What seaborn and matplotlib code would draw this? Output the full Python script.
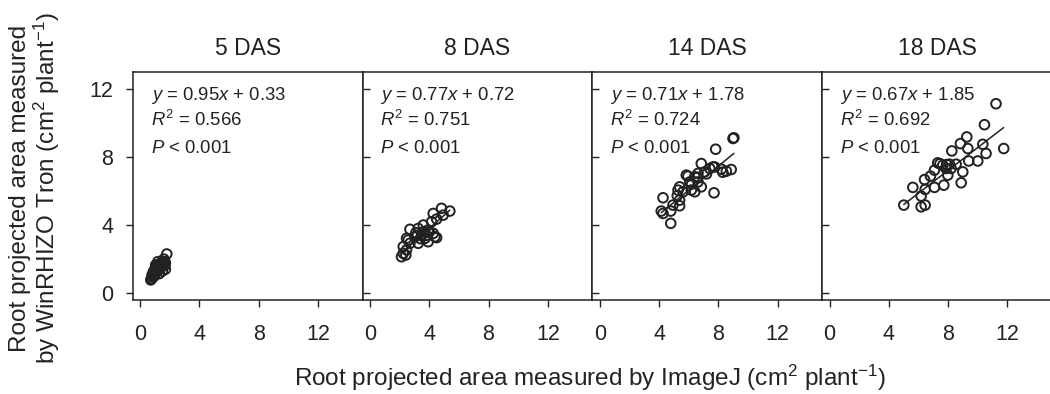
import matplotlib
matplotlib.use("Agg")
import numpy as np
import pandas as pd
import matplotlib.pyplot as plt
import seaborn as sns

# data
stages = ["5 DAS", "8 DAS", "14 DAS", "18 DAS"]
slopes = [0.95, 0.77, 0.71, 0.67]
intercepts = [0.33, 0.72, 1.78, 1.85]
r2_vals = ["0.566", "0.751", "0.724", "0.692"]

x5 = [0.72, 0.78, 0.80, 0.85, 0.88, 0.90, 0.93, 0.95, 0.98, 1.00, 1.02, 1.05, 1.08,
      1.10, 1.12, 1.15, 1.18, 1.20, 1.22, 1.25, 1.28, 1.30, 1.32, 1.35, 1.38, 1.40,
      1.42, 1.45, 1.48, 1.50, 1.52, 1.55, 1.58, 1.60, 1.62, 1.65, 1.68, 1.70, 1.80,
      1.30, 1.50, 1.20, 1.70, 1.05, 1.60]
y5 = [0.78, 0.85, 1.05, 0.95, 1.20, 1.10, 1.30, 1.00, 1.25, 1.40, 1.15, 1.35, 1.50,
      1.25, 1.45, 1.60, 1.35, 1.55, 1.40, 1.65, 1.50, 1.70, 1.45, 1.60, 1.75, 1.55,
      1.68, 1.80, 1.62, 1.75, 1.85, 1.70, 1.60, 1.80, 1.72, 1.85, 1.65, 1.78, 2.30,
      1.15, 1.30, 1.85, 1.40, 1.65, 2.00]

x8 = [2.13, 2.25, 2.42, 2.47, 2.25, 2.70, 3.26, 2.47, 3.03, 3.49, 3.71, 4.50, 4.27,
      3.93, 2.70, 3.26, 3.60, 3.60, 4.16, 4.50, 4.94, 4.27, 4.83, 5.39, 3.93, 2.58,
      4.38, 3.10, 3.40, 3.80, 4.00, 3.20]
y8 = [2.14, 2.34, 2.24, 2.54, 2.73, 2.93, 2.93, 3.22, 3.31, 3.41, 3.22, 3.26, 3.51,
      3.71, 3.75, 3.80, 4.00, 3.60, 4.19, 4.35, 4.58, 4.68, 4.98, 4.82, 3.02, 3.12,
      3.31, 3.55, 3.20, 3.40, 3.60, 3.40]

x14 = [8.99, 9.05, 7.82, 8.87, 8.54, 8.20, 7.75, 7.42, 6.85, 7.08, 6.63, 6.41, 5.84,
       6.07, 6.63, 6.85, 5.39, 5.28, 5.62, 6.18, 6.41, 7.71, 5.23, 4.27, 5.39, 4.94,
       4.15, 4.27, 4.79, 5.39, 4.79, 5.95, 7.64, 8.30, 6.20, 6.60, 7.20]
y14 = [9.08, 9.12, 8.45, 7.26, 7.16, 7.28, 7.41, 7.32, 7.61, 7.12, 7.03, 6.83, 6.93,
       6.53, 6.53, 6.24, 6.24, 6.05, 5.95, 6.05, 5.95, 5.89, 5.72, 5.60, 5.46, 5.17,
       4.82, 4.68, 4.82, 5.13, 4.10, 6.87, 7.41, 7.10, 6.40, 6.80, 7.00]

x18 = [11.23, 10.45, 9.26, 8.83, 9.33, 10.34, 11.75, 10.56, 8.25, 9.39, 10.00, 7.30,
       7.64, 8.09, 8.54, 7.86, 8.20, 8.99, 7.08, 6.81, 7.98, 6.41, 8.88, 7.71, 7.08,
       5.62, 6.45, 6.18, 5.01, 6.18, 6.45, 7.45, 7.90]
y18 = [11.12, 9.89, 9.17, 8.78, 8.49, 8.74, 8.49, 8.20, 8.35, 7.76, 7.76, 7.65, 7.51,
       7.57, 7.57, 7.32, 7.32, 7.12, 7.22, 6.87, 6.93, 6.67, 6.48, 6.34, 6.21, 6.21,
       6.09, 5.70, 5.17, 5.07, 5.17, 7.60, 7.55]

xs = [x5, x8, x14, x18]
ys = [y5, y8, y14, y18]

sns.set_theme(style="ticks")
plt.rcParams['font.family'] = ['Liberation Sans', 'DejaVu Sans']
plt.rcParams['mathtext.fontset'] = 'custom'
plt.rcParams['mathtext.rm'] = 'Liberation Sans'
plt.rcParams['mathtext.it'] = 'Liberation Sans:italic'

ink = '#222222'
fig = plt.figure(figsize=(10.5, 3.94), dpi=100)
lefts = [132.7, 362.5, 592.3, 822.1]
for i, stage in enumerate(stages):
    ax = fig.add_axes([lefts[i] / 1050, 0.2386, 229.8 / 1050, 0.5794])
    df = pd.DataFrame({'ImageJ': xs[i], 'WinRHIZO': ys[i]})
    xl = np.array([df['ImageJ'].min(), df['ImageJ'].max()])
    sns.lineplot(x=xl, y=slopes[i] * xl + intercepts[i], ax=ax, color=ink, linewidth=1.1)
    sns.scatterplot(data=df, x='ImageJ', y='WinRHIZO', ax=ax, marker='o', s=48,
                    facecolor='none', edgecolor=ink, linewidth=1.4, zorder=3)
    ax.set_xlim(-0.5, 15.0)
    ax.set_ylim(-0.4, 13.0)
    ax.set_xticks([0, 4, 8, 12])
    ax.set_yticks([0, 4, 8, 12])
    ax.set_xlabel('')
    ax.set_ylabel('')
    for sp in ax.spines.values():
        sp.set_visible(True)
        sp.set_color(ink)
        sp.set_linewidth(1.1)
    ax.tick_params(axis='x', direction='out', length=5, width=1, color=ink,
                   labelsize=15.5, pad=12, labelcolor=ink)
    if i == 0:
        ax.tick_params(axis='y', direction='out', length=5, width=1, color=ink,
                       labelsize=15.5, pad=9, labelcolor=ink)
    else:
        ax.tick_params(axis='y', direction='in', length=5, width=1, color=ink,
                       labelleft=False)
    ax.set_title(stage, fontsize=16.5, color=ink, pad=12)
    ax.text(0.078, 0.876, rf"$y$ = {slopes[i]:.2f}$x$ + {intercepts[i]:.2f}",
            transform=ax.transAxes, fontsize=13.3, va='baseline', color=ink)
    ax.text(0.078, 0.762, rf"$R^2$ = {r2_vals[i]}",
            transform=ax.transAxes, fontsize=13.3, va='baseline', color=ink)
    ax.text(0.078, 0.645, r"$P$ < 0.001",
            transform=ax.transAxes, fontsize=13.3, va='baseline', color=ink)

fig.text(0.5619, 1 - 378 / 394, r"Root projected area measured by ImageJ (cm$^2$ plant$^{-1}$)",
         ha='center', va='center', fontsize=17.5, color=ink)
fig.text(0.0338, 1 - 188 / 394,
         "Root projected area measured\n" + r"by WinRHIZO Tron (cm$^2$ plant$^{-1}$)",
         ha='center', va='center', rotation=90, fontsize=17.5, color=ink, linespacing=1.0)

fig.savefig('out.png', dpi=100)
